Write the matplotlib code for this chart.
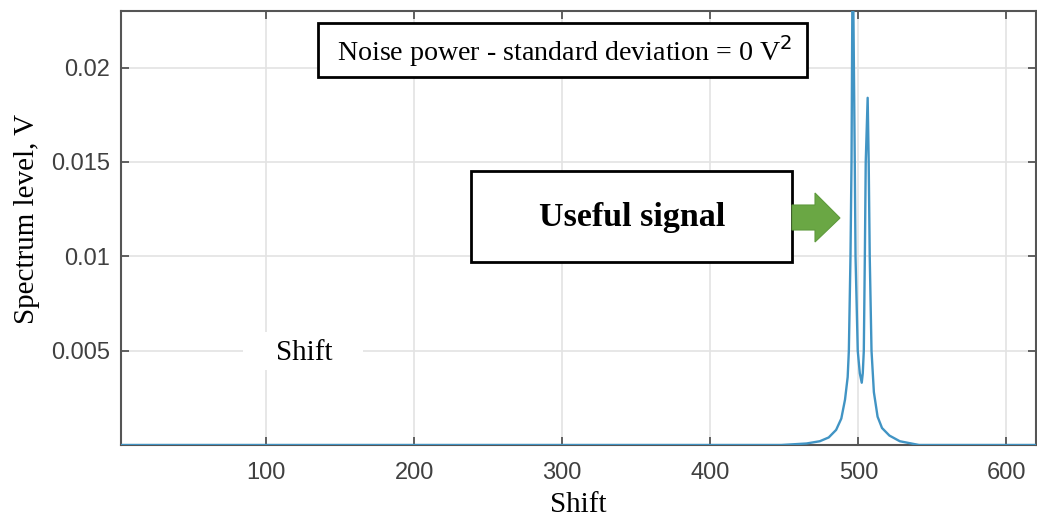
import matplotlib
matplotlib.use("Agg")
import matplotlib.pyplot as plt
from matplotlib.patches import Rectangle, Polygon

# spectrum samples (shift, level in V)
shift = [0, 448, 465, 474, 480, 485, 488.5, 491, 492.8, 493.6, 494.7, 495.4,
         496.2, 497.6, 498.1, 499.6, 501, 502.3, 503.0, 503.7, 504.4, 505.0,
         506.3, 507.0, 507.7, 508.9, 510.5, 513, 516, 521, 528, 541, 620]
level = [0, 0, 0.00008, 0.0002, 0.0004, 0.0008, 0.0014, 0.0024, 0.0036, 0.005,
         0.01, 0.015, 0.027, 0.015, 0.01, 0.005, 0.0038, 0.0033, 0.0038, 0.005,
         0.01, 0.015, 0.0184, 0.015, 0.01, 0.005, 0.0028, 0.0015, 0.0009,
         0.0005, 0.0002, 0, 0]

xticks = [100, 200, 300, 400, 500, 600]
yticks = [0.005, 0.01, 0.015, 0.02]
ytick_labels = ["0.005", "0.01", "0.015", "0.02"]

W, H = 1037, 520
SERIF = "Liberation Serif"
SANS = "Liberation Sans"

fig = plt.figure(figsize=(W / 100, H / 100), dpi=100)
ax = fig.add_axes([121 / W, 1 - 445 / H, (1036 - 121) / W, (445 - 11) / H])

ax.plot(shift, level, color="#4194c4", lw=1.7, zorder=3)

ax.set_xlim(2, 620)
ax.set_ylim(0, 0.0230)
ax.set_xticks(xticks)
ax.set_yticks(yticks)
ax.set_yticklabels(ytick_labels)
ax.grid(True, color="#e3e3e3", lw=1.2, zorder=0)
ax.tick_params(direction="in", length=6, width=1.3, color="#555555",
               top=True, right=True, labelsize=17, labelcolor="#404040", pad=8)
ax.tick_params(axis="x", pad=12)
for lab in ax.get_xticklabels() + ax.get_yticklabels():
    lab.set_fontfamily(SANS)
for s in ax.spines.values():
    s.set_color("#555555")
    s.set_linewidth(1.5)

ax.set_xlabel("Shift", fontfamily=SERIF, fontsize=21, labelpad=6)
ax.set_ylabel("Spectrum level, V", fontfamily=SERIF, fontsize=21)
ax.yaxis.set_label_coords(-0.088, 0.52)


def fx(px):
    return px / W


def fy(py):
    return 1 - py / H


def box(x0, y0, x1, y1, **kw):
    fig.add_artist(Rectangle((fx(x0), fy(y1)), fx(x1) - fx(x0), fy(y0) - fy(y1),
                             transform=fig.transFigure, **kw))


# noise annotation box
box(318, 23, 807, 77, facecolor="white", edgecolor="black", lw=2, zorder=5)
fig.text(fx(565), fy(51), r"Noise power - standard deviation = 0 V$^{2}$",
         fontfamily=SERIF, fontsize=20.2, ha="center", va="center", zorder=6)

# useful signal box and arrow
box(471, 171, 792, 262, facecolor="white", edgecolor="black", lw=2, zorder=5)
fig.text(fx(632), fy(217), "Useful signal", fontfamily=SERIF, fontsize=24.5,
         fontweight="bold", ha="center", va="center", zorder=6)
arrow = [(792, 205), (815, 205), (815, 193), (840, 218), (815, 242),
         (815, 230), (792, 230)]
fig.add_artist(Polygon([(fx(x), fy(y)) for x, y in arrow], closed=True,
                       transform=fig.transFigure, facecolor="#6aa744",
                       edgecolor="#5e9a3c", lw=0.8, zorder=5))

# stray label inside the plot area
box(243, 332, 363, 370, facecolor="white", edgecolor="none", zorder=5)
fig.text(fx(304), fy(353), "Shift", fontfamily=SERIF, fontsize=21,
         ha="center", va="center", zorder=6)

fig.savefig("out.png", dpi=100)
